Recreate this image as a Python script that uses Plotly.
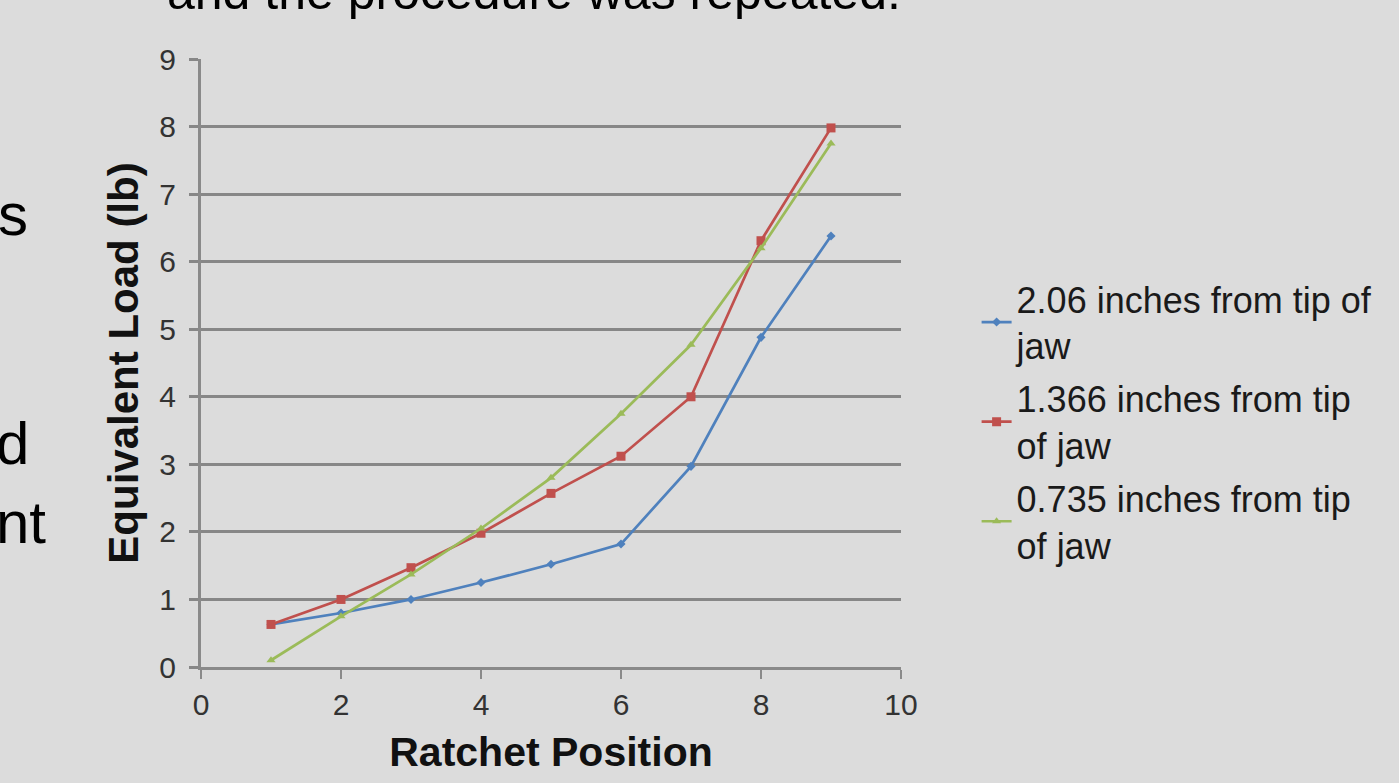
import plotly.graph_objects as go

ratchet = [1, 2, 3, 4, 5, 6, 7, 8, 9]
load_206 = [0.63, 0.80, 1.00, 1.25, 1.52, 1.82, 2.97, 4.88, 6.38]
load_1366 = [0.63, 1.00, 1.47, 1.98, 2.57, 3.12, 4.00, 6.31, 7.98]
load_0735 = [0.10, 0.75, 1.37, 2.05, 2.80, 3.75, 4.77, 6.20, 7.75]
names = ["2.06 inches from tip of<br>jaw", "1.366 inches from tip<br>of jaw", "0.735 inches from tip<br>of jaw"]
x_ticks = [0, 2, 4, 6, 8, 10]
y_ticks = [0, 1, 2, 3, 4, 5, 6, 7, 8, 9]

FONT = "Liberation Sans, Arial, sans-serif"

fig = go.Figure()
series = [
    (load_206, names[0], "#4F81BD", "diamond", 7),
    (load_1366, names[1], "#C0504D", "square", 9),
    (load_0735, names[2], "#9BBB59", "triangle-up", 8),
]
for i, (ys, nm, col, sym, sz) in enumerate(series):
    fig.add_trace(go.Scatter(
        x=ratchet, y=ys, name=nm, mode="lines+markers", legendgroup=f"g{i}",
        line=dict(color=col, width=2.7),
        marker=dict(symbol=sym, size=sz, color=col, line=dict(width=0)),
    ))

fig.update_layout(
    width=1399, height=783,
    margin=dict(l=201, r=498, t=59, b=116),
    paper_bgcolor="#dcdcdc",
    plot_bgcolor="rgba(0,0,0,0)",
    font=dict(family=FONT, color="#222222"),
    showlegend=True,
    legend=dict(
        x=1.108, y=0.655, xanchor="left", yanchor="top",
        font=dict(family=FONT, size=36, color="#1a1a1a"),
        bgcolor="rgba(0,0,0,0)", tracegroupgap=3,
    ),
    xaxis=dict(
        range=[0, 10], tickvals=x_ticks, showgrid=False, zeroline=False,
        showline=True, linecolor="#8a8a8a", linewidth=3,
        ticks="outside", ticklen=9, tickwidth=2, tickcolor="#8a8a8a",
        tickfont=dict(family=FONT, size=30, color="#333333"),
        title=dict(text="Ratchet Position", font=dict(family=FONT, size=41, color="#111111", weight="bold"), standoff=18),
    ),
    yaxis=dict(
        range=[0, 9], tickvals=y_ticks, showgrid=True, gridcolor="#878787", gridwidth=3,
        zeroline=False, showline=True, linecolor="#8a8a8a", linewidth=3,
        ticks="outside", ticklen=9, tickwidth=3, tickcolor="#878787",
        ticklabelstandoff=7,
        tickfont=dict(family=FONT, size=30, color="#333333"),
        title=dict(text="Equivalent Load (lb)", font=dict(family=FONT, size=42, color="#111111", weight="bold"), standoff=8),
    ),
)

# slide text fragments around the chart (cut off by the screenshot crop, as in the reference)
slide_font = dict(family=FONT, size=50, color="#000000")
fig.add_annotation(text="and the procedure was repeated.", xref="paper", yref="paper",
                   x=(165 - 201) / 700, y=(667 - 22) / 608, xanchor="left", yanchor="bottom",
                   showarrow=False, font=slide_font)
frag_font = dict(family=FONT, size=60, color="#000000")
for txt, xr, ymid in [("s", 30, 215), ("d", 31, 443), ("nt", 48, 522)]:
    fig.add_annotation(text=txt, xref="paper", yref="paper",
                       x=(xr - 201) / 700, y=(667 - ymid) / 608, xanchor="right", yanchor="middle",
                       showarrow=False, font=frag_font)

fig.write_html("out.html", config={"displayModeBar": False},
               post_script="document.body.style.margin='0';document.body.style.overflow='hidden';")
